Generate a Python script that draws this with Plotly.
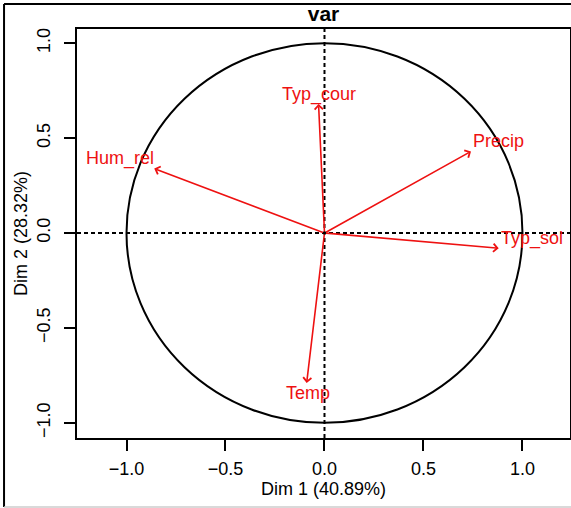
import plotly.graph_objects as go

# variable coordinates on the first two dimensions
var_names = ["Hum_rel", "Typ_cour", "Precip", "Typ_sol", "Temp"]
dim1 = [-0.86, -0.03, 0.74, 0.88, -0.09]
dim2 = [0.34, 0.68, 0.43, -0.08, -0.79]
label_pos = ["left", "above", "right", "right", "below"]

tick_vals = [-1.0, -0.5, 0.0, 0.5, 1.0]
x_title = "Dim 1 (40.89%)"
y_title = "Dim 2 (28.32%)"

RED = "#ee1111"
FONT = "Liberation Sans, Arial, sans-serif"

# anchor + pixel shift for each label placement
_PLACE = {
    "left": dict(xanchor="right", yanchor="middle", xshift=2, yshift=10),
    "above": dict(xanchor="center", yanchor="middle", xshift=0, yshift=9),
    "right": dict(xanchor="left", yanchor="middle", xshift=0, yshift=10),
    "below": dict(xanchor="center", yanchor="middle", xshift=1, yshift=-10),
}

fig = go.Figure()

# invisible trace so the axes exist
fig.add_trace(go.Scatter(x=dim1, y=dim2, mode="markers",
                         marker=dict(opacity=0), hoverinfo="skip", showlegend=False))

shapes = [
    dict(type="circle", xref="x", yref="y", x0=-1, y0=-1, x1=1, y1=1,
         line=dict(color="black", width=2)),
    dict(type="line", xref="x", yref="paper", x0=0, x1=0, y0=0, y1=1,
         line=dict(color="black", width=2, dash="4px,3px")),
    dict(type="line", xref="paper", yref="y", x0=0, x1=1, y0=0, y1=0,
         line=dict(color="black", width=2, dash="4px,3px")),
    # outer frame of the picture
    dict(type="line", xref="paper", yref="paper", x0=-0.148, x1=1.002, y0=1.061, y1=1.061,
         line=dict(color="black", width=2)),
    dict(type="line", xref="paper", yref="paper", x0=-0.148, x1=-0.148, y0=1.061, y1=-0.169,
         line=dict(color="black", width=2)),
    dict(type="line", xref="paper", yref="paper", x0=-0.148, x1=1.002, y0=-0.169, y1=-0.169,
         line=dict(color="#cccccc", width=1.5)),
]

annotations = []
for name, x, y, pos in zip(var_names, dim1, dim2, label_pos):
    annotations.append(dict(
        x=x, y=y, ax=0, ay=0, xref="x", yref="y", axref="x", ayref="y",
        text="", showarrow=True, arrowhead=4, arrowsize=1.0, arrowwidth=1.6,
        arrowcolor=RED, standoff=0,
    ))
    annotations.append(dict(
        x=x, y=y, xref="x", yref="y", text=name, showarrow=False,
        font=dict(color=RED, size=18, family=FONT), **_PLACE[pos],
    ))

axis_common = dict(
    showgrid=False, zeroline=False, showline=True, mirror=True, automargin=False,
    linecolor="black", linewidth=2, ticks="outside", ticklen=11, tickwidth=1.5,
    tickcolor="black", tickvals=tick_vals, tickformat=".1f",
    tickfont=dict(size=18, family=FONT, color="black"),
)

fig.update_layout(
    width=571, height=508,
    margin=dict(l=77, r=1, t=29, b=70),
    paper_bgcolor="white", plot_bgcolor="white",
    showlegend=False,
    title=dict(text="<b>var</b>", x=0.5, xref="paper", xanchor="center",
               y=1 - 14 / 508, yanchor="middle",
               font=dict(size=21, family=FONT, color="black")),
    xaxis=dict(range=[-1.25, 1.24],
               title=dict(text=x_title, font=dict(size=18, family=FONT, color="black"), standoff=4),
               ticklabelstandoff=2, **axis_common),
    yaxis=dict(range=[-1.08, 1.075], tickangle=-90,
               title=dict(text=y_title, font=dict(size=18, family=FONT, color="black"), standoff=1),
               ticklabelstandoff=7, **axis_common),
    shapes=shapes,
    annotations=annotations,
)

# the page body has a default 8px margin; drop it so the figure sits at the corner
fig.write_html("out.html", config={"displayModeBar": False},
               post_script="document.body.style.margin = '0';")
